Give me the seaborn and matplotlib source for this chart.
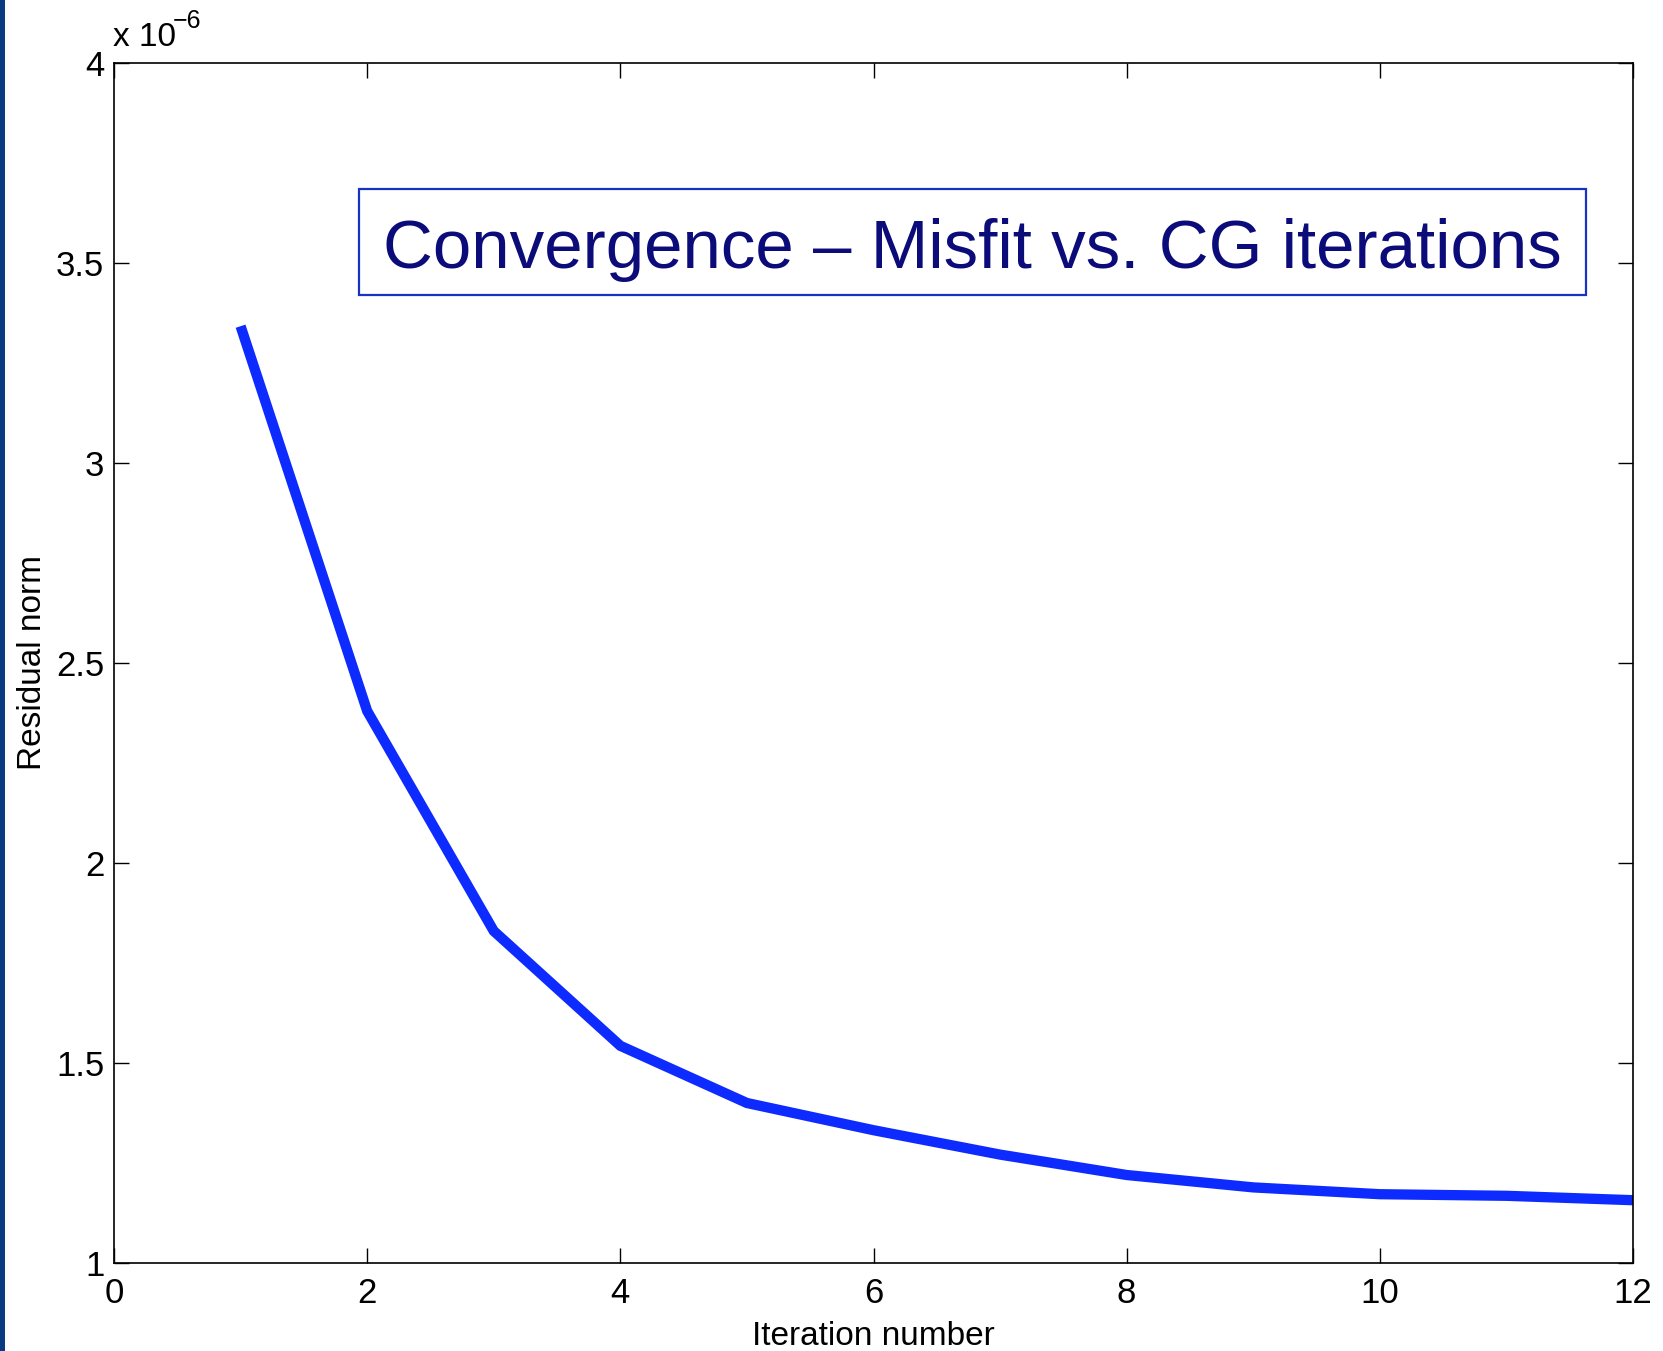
import matplotlib
matplotlib.use("Agg")
import matplotlib.pyplot as plt
from matplotlib.patches import Rectangle
import seaborn as sns
import pandas as pd

# ---- data (residual norm in units of 1e-6) ----
iterations = [1, 2, 3, 4, 5, 6, 7, 8, 9, 10, 11, 12]
residual_norm = [3.342, 2.380, 1.830, 1.543, 1.400, 1.332, 1.271, 1.220, 1.189, 1.172, 1.168, 1.157]
x_ticks = [0, 2, 4, 6, 8, 10, 12]
y_ticks = [1, 1.5, 2, 2.5, 3, 3.5, 4]
y_tick_labels = ["1", "1.5", "2", "2.5", "3", "3.5", "4"]
title_text = "Convergence \u2013 Misfit vs. CG iterations"
x_label = "Iteration number"
y_label = "Residual norm"

sns.set_theme(style="white")
plt.rcParams['font.family'] = ['Liberation Sans', 'DejaVu Sans']
plt.rcParams['mathtext.fontset'] = 'custom'
plt.rcParams['mathtext.rm'] = 'Liberation Sans'
plt.rcParams['mathtext.it'] = 'Liberation Sans'

W, H = 1663, 1351
fig = plt.figure(figsize=(W / 100, H / 100), dpi=100)
fig.patch.set_facecolor('white')

# axes placement (pixels)
L, R, T, B = 114, 1633, 63, 1263
ax = fig.add_axes([L / W, 1 - B / H, (R - L) / W, (B - T) / H])

df = pd.DataFrame({"it": iterations, "res": residual_norm})
sns.lineplot(data=df, x="it", y="res", ax=ax, color="#0d2bff", linewidth=7.4,
             solid_capstyle='butt', solid_joinstyle='miter')

ax.set_xlim(0, 12)
ax.set_ylim(1, 4)
ax.set_xticks(x_ticks)
ax.set_xticklabels([str(v) for v in x_ticks])
ax.set_yticks(y_ticks)
ax.set_yticklabels(y_tick_labels)
ax.tick_params(axis='both', which='major', direction='in', length=10.8, width=1.0,
               color='black', labelsize=25, labelcolor='black',
               top=True, right=True, bottom=True, left=True)
ax.tick_params(axis='y', pad=7)
ax.tick_params(axis='x', pad=10)
for s in ax.spines.values():
    s.set_visible(True)
    s.set_color('black')
    s.set_linewidth(1.2)
ax.grid(False)

ax.set_xlabel(x_label, fontsize=24, color='black', labelpad=8)
ax.set_ylabel(y_label, fontsize=24, color='black', labelpad=6)

# exponent label
ax.text(-1 / 1519, 1.0 + 17 / 1200, "x 10", transform=ax.transAxes,
        fontsize=24, color='black', ha='left', va='baseline')
ax.text(59 / 1519, 1.0 + 35 / 1200, "\u22126", transform=ax.transAxes,
        fontsize=18, color='black', ha='left', va='baseline')

# title box
bx0, bx1, by0, by1 = 358.5, 1585.6, 188.8, 294.9
box = Rectangle(((bx0 - L) / (R - L), (B - by1) / (B - T)),
                (bx1 - bx0) / (R - L), (by1 - by0) / (B - T),
                transform=ax.transAxes, fill=False, edgecolor='#1733c4',
                linewidth=1.6, zorder=5)
ax.add_patch(box)
t = ax.text((972 - L) / (R - L), (B - 268) / (B - T), title_text,
            transform=ax.transAxes, fontsize=50, color='#0b0b7a',
            ha='center', va='baseline', zorder=6)
fig.canvas.draw()
wpx = t.get_window_extent().width
t.set_fontsize(50 * 1180 / wpx)

# left dark strip
fig.patches.append(Rectangle((0, 0), 5 / W, 1, transform=fig.transFigure,
                             facecolor='#0a3a80', edgecolor='none', zorder=10))

fig.savefig("out.png", dpi=100)
